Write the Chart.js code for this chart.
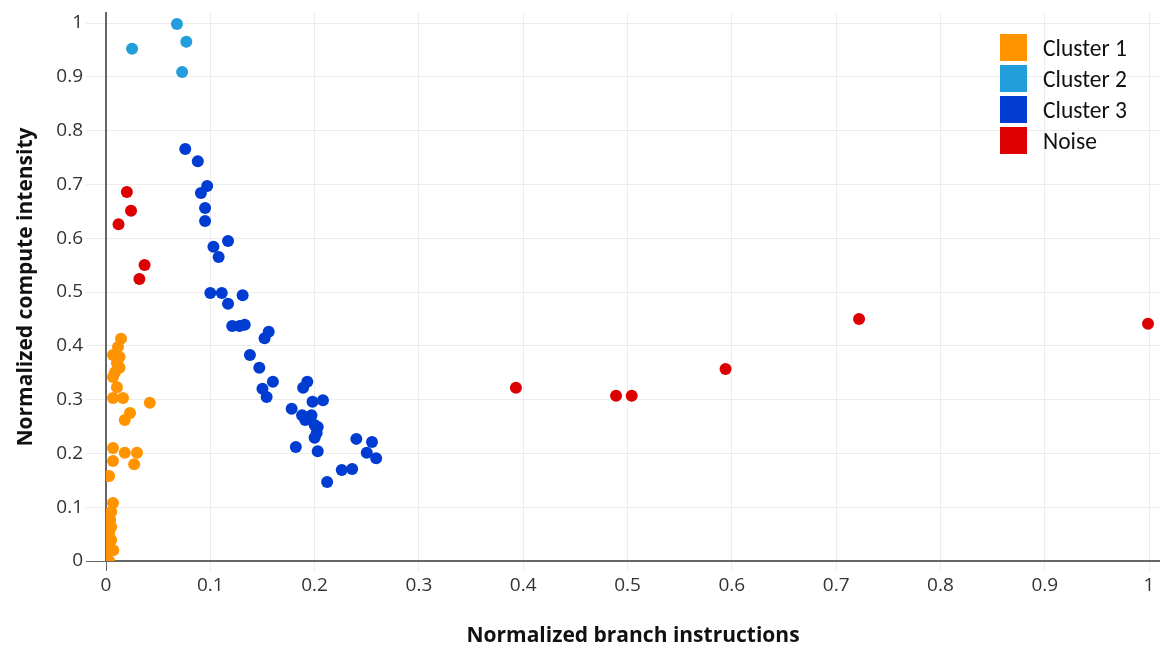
<!DOCTYPE html>
<html>
<head>
<meta charset="utf-8">
<script src="https://cdn.jsdelivr.net/npm/chart.js@4/dist/chart.umd.min.js"></script>
<style>
    html, body { margin: 0; padding: 0; background: #fff; }
    .diagram { position: relative; width: 1160px; height: 653px; }
    .legend { position: absolute; left: 1000px; top: 32px; font-family: Carlito, Calibri, Lato, sans-serif; font-size: 23.5px; color: #111; }
    .legend .row { display: flex; align-items: center; height: 31px; }
    .legend .sq { width: 27px; height: 27px; margin-right: 16px; }
</style>
</head>
<body>
<div class="diagram">
    <canvas id="scatter-chart" width="1160" height="653"></canvas>
    <div class="legend" id="legend"></div>
</div>
<script>
const seriesNames = ["Cluster 1", "Cluster 2", "Cluster 3", "Noise"];
const colors = ["rgb(255,148,0)", "rgb(34,158,218)", "rgb(0,60,210)", "rgb(220,0,0)"];

const cluster1X = [0.0144, 0.0115, 0.0067, 0.013, 0.0105, 0.013, 0.0086, 0.0067, 0.0105, 0.0067, 0.0163, 0.042, 0.023, 0.018, 0.0067, 0.018, 0.0297, 0.0067, 0.027, 0.003, 0.0067, 0.005, 0.004, 0.005, 0.003, 0.005, 0.002, 0.007, 0.0, 0.003];
const cluster1Y = [0.413, 0.398, 0.383, 0.379, 0.368, 0.359, 0.351, 0.342, 0.323, 0.303, 0.303, 0.294, 0.275, 0.262, 0.210, 0.201, 0.201, 0.186, 0.180, 0.158, 0.108, 0.091, 0.076, 0.063, 0.052, 0.039, 0.026, 0.020, 0.006, 0.0];

const cluster2X = [0.068, 0.025, 0.077, 0.073];
const cluster2Y = [0.998, 0.952, 0.965, 0.909];

const cluster3X = [0.076, 0.088, 0.097, 0.091, 0.095, 0.095, 0.117, 0.103, 0.108, 0.100, 0.111, 0.131, 0.117, 0.121, 0.128, 0.133, 0.156, 0.152, 0.138, 0.147, 0.160, 0.150, 0.154, 0.193, 0.189, 0.198, 0.208, 0.178, 0.188, 0.191, 0.197, 0.200, 0.203, 0.202, 0.200, 0.182, 0.203, 0.240, 0.255, 0.250, 0.259, 0.226, 0.236, 0.212];
const cluster3Y = [0.766, 0.743, 0.697, 0.684, 0.656, 0.632, 0.595, 0.584, 0.565, 0.498, 0.498, 0.494, 0.478, 0.437, 0.437, 0.439, 0.426, 0.414, 0.383, 0.359, 0.333, 0.320, 0.305, 0.333, 0.322, 0.296, 0.299, 0.283, 0.271, 0.262, 0.271, 0.253, 0.249, 0.238, 0.229, 0.212, 0.204, 0.227, 0.221, 0.201, 0.191, 0.169, 0.171, 0.147];

const noiseX = [0.020, 0.024, 0.012, 0.037, 0.032, 0.393, 0.489, 0.504, 0.594, 0.722, 0.999];
const noiseY = [0.686, 0.651, 0.626, 0.550, 0.524, 0.322, 0.307, 0.307, 0.357, 0.450, 0.441];

const tickValues = [0, 0.1, 0.2, 0.3, 0.4, 0.5, 0.6, 0.7, 0.8, 0.9, 1];

const toPoints = (xs, ys) => xs.map((x, i) => ({x, y: ys[i]}));
const seriesPoints = [
    toPoints(cluster1X, cluster1Y),
    toPoints(cluster2X, cluster2Y),
    toPoints(cluster3X, cluster3Y),
    toPoints(noiseX, noiseY)
];

const axisColor = "#666";
const gridColor = "#ececec";
const tickFont = {family: "'Open Sans', sans-serif", size: 19};
const titleFont = {family: "'Open Sans', sans-serif", size: 21, weight: "bold"};
const tickLabel = v => String(Math.round(v * 10) / 10);

const axis = (title, extra) => Object.assign({
    type: "linear",
    min: 0,
    afterBuildTicks: scale => { scale.ticks = tickValues.map(v => ({value: v})); },
    border: {display: true, color: axisColor, width: 2}
}, extra);

new Chart("scatter-chart", {
    type: "scatter",
    data: {
        datasets: seriesNames.map((name, i) => ({
            label: name,
            data: seriesPoints[i],
            backgroundColor: colors[i],
            borderWidth: 0,
            pointRadius: 6,
            pointHoverRadius: 6
        }))
    },
    options: {
        responsive: false,
        animation: false,
        events: [],
        layout: {autoPadding: false, padding: {top: 13, right: 0, left: 0, bottom: 0}},
        plugins: {legend: {display: false}, tooltip: {enabled: false}},
        scales: {
            x: axis("Normalized branch instructions", {
                max: 1.0105,
                afterFit: s => { s.height = 92; s.paddingRight = 0; s.paddingLeft = 0; },
                grid: {
                    color: gridColor,
                    tickLength: 10,
                    tickColor: c => c.tick && c.tick.value === 0 ? axisColor : gridColor,
                    tickWidth: 1
                },
                ticks: {color: "#333", font: tickFont, padding: 3, maxRotation: 0, callback: tickLabel},
                title: {display: true, text: "Normalized branch instructions", color: "#111", font: titleFont, padding: {top: 4, bottom: 4}}
            }),
            y: axis("Normalized compute intensity", {
                max: 1.0186,
                afterFit: s => { s.width = 106; s.paddingTop = 0; s.paddingBottom = 0; },
                grid: {
                    color: gridColor,
                    tickLength: 20,
                    tickColor: c => c.tick && c.tick.value === 0 ? axisColor : gridColor,
                    tickWidth: 1
                },
                ticks: {color: "#333", font: tickFont, padding: 3, callback: tickLabel},
                title: {display: true, text: "Normalized compute intensity", color: "#111", font: titleFont, padding: {top: 13, bottom: 4}}
            })
        }
    }
});

document.getElementById("legend").innerHTML = seriesNames.map((name, i) =>
    `<div class="row"><div class="sq" style="background:${colors[i]}"></div><div>${name}</div></div>`
).join("");
</script>
</body>
</html>
